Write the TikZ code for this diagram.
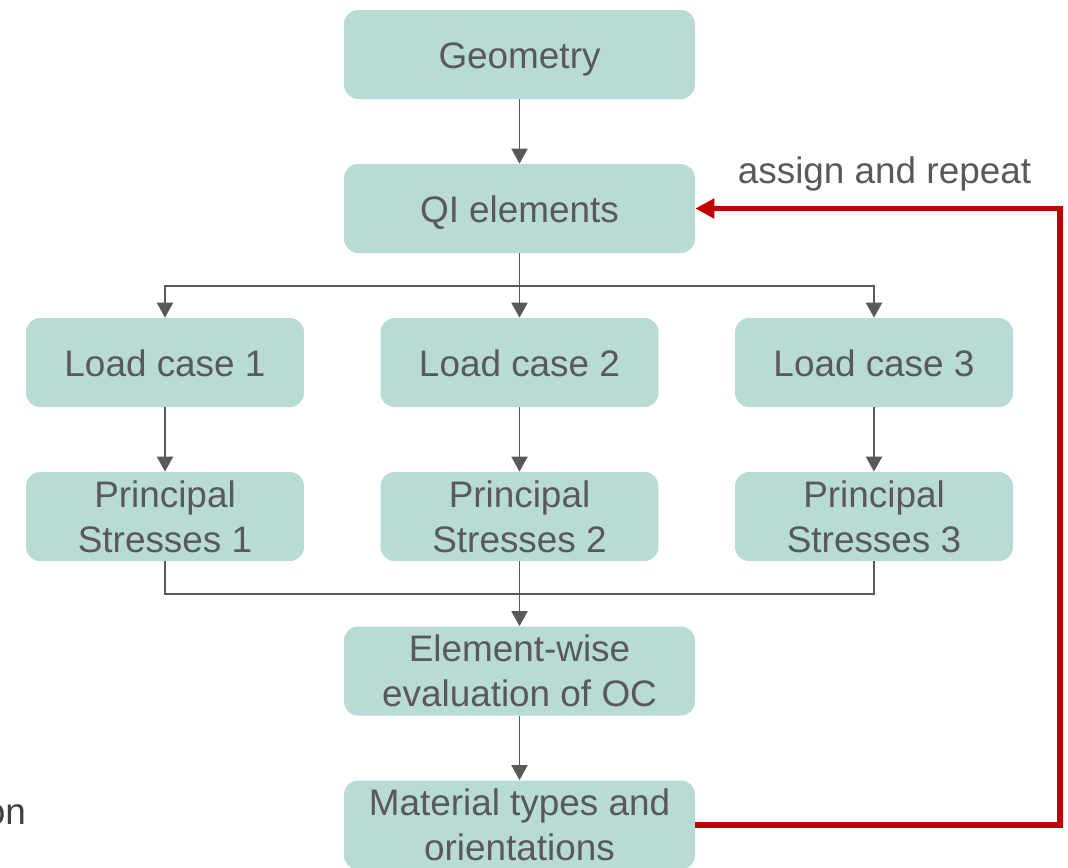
\documentclass[tikz,border=0pt]{standalone}
\usepackage{fontspec}
\setmainfont{Liberation Sans}
\usetikzlibrary{arrows.meta}
\definecolor{boxfill}{HTML}{B9DBD6}
\definecolor{txtgray}{HTML}{595959}
\definecolor{loopred}{HTML}{C00000}

\begin{document}
\begin{tikzpicture}[x=0.02cm,y=-0.02cm,
  font=\fontsize{21}{25.6}\selectfont, text=txtgray,
  bigbox/.style={fill=boxfill, rounded corners=0.28cm, minimum width=7.02cm,
    minimum height=1.78cm, inner sep=0pt, align=center},
  smallbox/.style={bigbox, minimum width=5.56cm},
  oneline/.style={text height=0.64cm, text depth=0.08cm},
  link/.style={draw=txtgray, line width=1.1pt},
  arr/.style={link, -{Triangle[length=0.3cm,width=0.32cm]}},
  loop/.style={draw=loopred, line width=3.4pt, -{Triangle[length=0.38cm,width=0.38cm]}}]
%\draw[step=100,gray,very thin] (0,0) grid (1068,867);
\useasboundingbox (0,0) rectangle (1068,867);
\node[bigbox,oneline] (geo) at (519.5,54.5) {Geometry};
\node[bigbox,oneline] (qi) at (519.5,208.5) {QI elements};
\node[smallbox,oneline] (lc1) at (165,362.5) {Load case 1};
\node[smallbox,oneline] (lc2) at (519.5,362.5) {Load case 2};
\node[smallbox,oneline] (lc3) at (874,362.5) {Load case 3};
\node[smallbox] (ps1) at (165,516.5) {Principal\\Stresses 1};
\node[smallbox] (ps2) at (519.5,516.5) {Principal\\Stresses 2};
\node[smallbox] (ps3) at (874,516.5) {Principal\\Stresses 3};
\node[bigbox] (ew) at (519.5,671) {Element-wise\\evaluation of OC};
\node[bigbox] (mat) at (519.5,825) {Material types and\\orientations};
\node (rep) at (884.5,174) {assign and repeat};
\node[anchor=east, text=black!75] (cut) at (32,815) {on};
\coordinate (split) at (519.5,286);
\coordinate (join) at (519.5,594);
\coordinate (back) at (1060,208.5);
% flow down
\draw[arr] (geo) -- (qi);
\draw[arr] (qi) -- (lc2);
\draw[arr] (split) -| (lc1);
\draw[arr] (split) -| (lc3);
\draw[arr] (lc1) -- (ps1);
\draw[arr] (lc2) -- (ps2);
\draw[arr] (lc3) -- (ps3);
\draw[link] (ps1) |- (join) -| (ps3);
\draw[arr] (ps2) -- (ew);
\draw[arr] (ew) -- (mat);
% feedback loop
\draw[loop] (mat.east) -| (back) -- (qi.east);
\end{tikzpicture}
\end{document}
